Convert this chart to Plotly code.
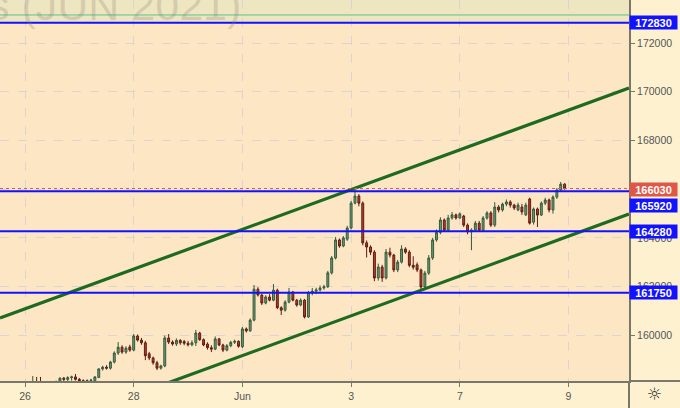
import plotly.graph_objects as go

# ---- hourly OHLC (May 25 late session .. Jun 8) ----
opens = [157900,157950,158000,157900,157850,157800,157900,157950,158050,158100,
         158050,158000,157950,157900,158000,158120,158250,158200,158270,158300,
         158200,158140,158130,158150,158140,158280,158630,158700,158660,158910,
         159280,159520,159320,159530,159400,159980,159810,159700,159250,159080,
         158880,158660,158750,159900,159730,159650,159800,159750,159680,159620,
         159700,160100,159830,159650,159500,159440,159860,159610,159400,159580,
         159720,159760,159540,160270,160190,160630,161900,161660,161330,161580,
         161450,161860,161140,161040,161370,161780,161450,161250,161450,160760,
         161760,161820,161870,161950,162000,162570,163180,163920,163670,163950,
         164410,165430,165720,165430,163800,163630,163420,162360,162810,162360,
         163420,163300,162690,163010,163550,163420,162880,162900,162690,161990,
         162560,163180,163920,164230,164740,164330,164820,164950,164820,164900,
         164530,164250,164330,164610,164320,164820,165030,164530,165270,165150,
         165390,165480,165350,165150,165270,164950,165600,164650,165190,164940,
         165430,165560,165150,165680,165970,166210]
highs = [158050,158080,158100,158000,157950,157950,158050,158100,158340,158300,
         158300,158100,158080,158050,158150,158280,158300,158330,158350,158420,
         158260,158200,158200,158220,158330,158650,158760,158780,158960,159350,
         159730,159600,159560,159620,160060,160040,159900,159780,159330,159130,
         158960,158800,160000,160060,159800,159880,159850,159820,159780,159800,
         160230,160150,159880,159720,159600,159960,159900,159660,159650,159780,
         159830,159800,160350,160330,160700,162070,161980,161700,161650,161700,
         162110,161920,161200,161450,161950,161830,161500,161520,161500,161830,
         161950,161960,162050,162080,162650,163260,164040,163980,164080,164500,
         165520,165970,165800,165500,163900,163700,163500,162950,162900,163550,
         163600,163350,163100,163700,163620,163500,163250,163000,162750,162650,
         163300,164000,164350,164850,164800,164950,165070,165000,165050,164950,
         164600,164400,164700,164700,164900,165100,165100,165470,165350,165450,
         165580,165550,165400,165450,165400,165450,165650,165250,165250,165500,
         165650,165620,165750,166050,166300,166250]
lows = [157700,157800,157850,157750,157700,157650,157700,157800,157950,157950,
        157900,157850,157800,157800,157900,158000,158130,158120,158150,158150,
        158100,158080,158050,158100,158100,158250,158560,158600,158600,158850,
        159200,159250,159250,159330,159350,159750,159620,158990,158990,158800,
        158580,158600,158700,159650,159580,159570,159620,159600,159550,159560,
        159570,159780,159560,159420,159320,159400,159560,159320,159350,159520,
        159650,159500,159480,160120,160150,160580,161600,161250,161280,161400,
        161400,161080,160840,160980,161320,161400,161180,161200,160700,160720,
        161650,161700,161800,161880,161950,162500,163120,163600,163620,163880,
        164350,165380,165300,163700,163200,163300,162230,162250,162200,162300,
        163200,162600,162600,162950,163350,162800,162700,162600,161850,161920,
        162480,163100,163850,164150,164250,164280,164750,164750,164780,164450,
        164150,163500,164250,164250,164250,164750,164450,164450,165050,165080,
        165300,165250,165150,165100,164950,164900,164550,164550,164450,164900,
        165350,165050,165000,165600,165900,165980]
closes = [157950,158000,157900,157850,157800,157900,157950,158050,158100,158050,
          158000,157950,157900,158000,158100,158250,158200,158270,158300,158200,
          158140,158130,158150,158170,158300,158630,158700,158660,158910,159280,
          159520,159320,159480,159400,159980,159810,159700,159170,159080,158880,
          158660,158750,159900,159730,159650,159800,159700,159680,159620,159700,
          160100,159830,159610,159500,159440,159860,159610,159400,159580,159720,
          159760,159560,160270,160190,160630,161900,161660,161330,161580,161450,
          161860,161140,161040,161370,161780,161450,161250,161450,160760,161760,
          161820,161870,161950,162000,162570,163180,163920,163670,164000,164410,
          165430,165720,165430,163800,163630,163420,162360,162810,162360,163420,
          163300,162690,163010,163550,163420,162880,162800,162690,161990,162560,
          163180,163920,164230,164740,164330,164820,164950,164820,164990,164530,
          164250,164330,164610,164320,164820,165030,164530,165270,165150,165390,
          165480,165350,165230,165350,165070,165350,164610,165190,164940,165430,
          165560,165150,165680,165970,166210,166030]

first_day = -1          # May 25 (trading-day index, May 26 = 0)
first_hour_slot = 8     # first visible hourly slot of that day
slots_per_day = 14

tick_days = [0, 2, 4, 6, 8, 10]
tick_labels = ["26", "28", "Jun", "3", "7", "9"]

price_ticks = [160000, 162000, 164000, 166000, 168000, 170000, 172000]
level_prices = [172830, 165920, 164280, 161750]
level_label_shift = [0, -14, 0, 0]
last_price = 166030
top_line_price = 173150

# channel anchors (day index, price)
upper_x = [-0.46, 11.113]
upper_y = [160717, 170153]
lower_x = [2.5, 11.113]
lower_y = [157950, 164984]

x_range = [-0.46, 11.113]
y_range = [158133, 173764]

xs = [first_day + (first_hour_slot + i) / slots_per_day for i in range(len(opens))]

fig = go.Figure()
fig.add_trace(go.Candlestick(
    x=xs, open=opens, high=highs, low=lows, close=closes,
    increasing=dict(line=dict(color="#345a3c", width=1), fillcolor="#6c9c78"),
    decreasing=dict(line=dict(color="#5a1e14", width=1), fillcolor="#c23a2a"),
    whiskerwidth=0, showlegend=False, hoverinfo="skip"))

for cx, cy in ((upper_x, upper_y), (lower_x, lower_y)):
    fig.add_trace(go.Scatter(x=cx, y=cy, mode="lines",
                             line=dict(color="#1d6a20", width=3.2),
                             showlegend=False, hoverinfo="skip"))

shapes = []
# top band
shapes.append(dict(type="rect", xref="paper", yref="y", x0=0, x1=1,
                   y0=level_prices[0], y1=y_range[1] + 500,
                   fillcolor="#eee5c1", line=dict(width=0), layer="between"))
shapes.append(dict(type="line", xref="paper", yref="y", x0=0, x1=1,
                   y0=top_line_price, y1=top_line_price,
                   line=dict(color="#5cc38a", width=1), layer="above"))
shapes.append(dict(type="line", xref="paper", yref="y", x0=0, x1=1,
                   y0=last_price, y1=last_price,
                   line=dict(color="#e0594b", width=1, dash="dot"), layer="above"))
for p in level_prices:
    shapes.append(dict(type="line", xref="paper", yref="y", x0=0, x1=1, y0=p, y1=p,
                       line=dict(color="#1212ff", width=2), layer="above"))
# axis line extensions into the scale panels
shapes.append(dict(type="line", xref="paper", yref="paper", x0=1, x1=680 / 629, y0=0, y1=0,
                   line=dict(color="#77776c", width=2)))
shapes.append(dict(type="line", xref="paper", yref="paper", x0=1, x1=1, y0=0, y1=-27 / 381,
                   line=dict(color="#77776c", width=2)))

annotations = []
annotations.append(dict(xref="paper", yref="paper", x=243 / 629, y=1 - 31 / 381,
                        xanchor="right", yanchor="bottom", showarrow=False,
                        text="s (JUN 2021)",
                        font=dict(size=43, color="rgba(130,125,110,0.25)",
                                  family="Liberation Sans")))
for p, sh in zip(level_prices, level_label_shift):
    annotations.append(dict(xref="paper", yref="y", x=1, y=p, xanchor="left",
                            yanchor="middle", yshift=sh, showarrow=False,
                            text=f"<b>{p}</b>", bgcolor="#1212ff",
                            width=45, height=11, borderpad=1,
                            font=dict(size=11, color="white", family="Liberation Sans")))
annotations.append(dict(xref="paper", yref="y", x=1, y=last_price, xanchor="left",
                        yanchor="middle", yshift=-1, showarrow=False,
                        text=f"<b>{last_price}</b>", bgcolor="#de5747",
                        width=45, height=11, borderpad=1,
                        font=dict(size=11, color="white", family="Liberation Sans")))
annotations.append(dict(xref="paper", yref="paper", x=654 / 629, y=-13 / 381,
                        xanchor="center", yanchor="middle", showarrow=False,
                        text="☼", font=dict(size=17, color="#333333", family="DejaVu Sans")))

fig.update_layout(
    width=680, height=408,
    margin=dict(l=0, r=51, t=0, b=27, autoexpand=False),
    paper_bgcolor="#fef1cf", plot_bgcolor="#fde6c4",
    shapes=shapes, annotations=annotations,
    xaxis=dict(range=x_range, tickvals=tick_days, ticktext=tick_labels,
               showgrid=True, gridcolor="#dcd4d2", griddash="dash", gridwidth=1,
               ticks="outside", ticklen=4, tickcolor="#77776c",
               showline=True, linecolor="#77776c", linewidth=2, zeroline=False,
               rangeslider=dict(visible=False), fixedrange=True,
               tickfont=dict(size=10.5, color="#555555", family="Liberation Sans")),
    yaxis=dict(range=y_range, side="right", tickvals=price_ticks,
               ticktext=[str(v) for v in price_ticks],
               showgrid=True, gridcolor="#dcd4d2", griddash="dash", gridwidth=1,
               ticks="outside", ticklen=4, tickcolor="#77776c",
               showline=True, linecolor="#77776c", linewidth=2, zeroline=False,
               fixedrange=True,
               tickfont=dict(size=10.5, color="#555555", family="Liberation Sans")),
)

fig.write_html("out.html", config={"displayModeBar": False},
               post_script="document.body.style.margin='0';document.body.style.overflow='hidden';")
